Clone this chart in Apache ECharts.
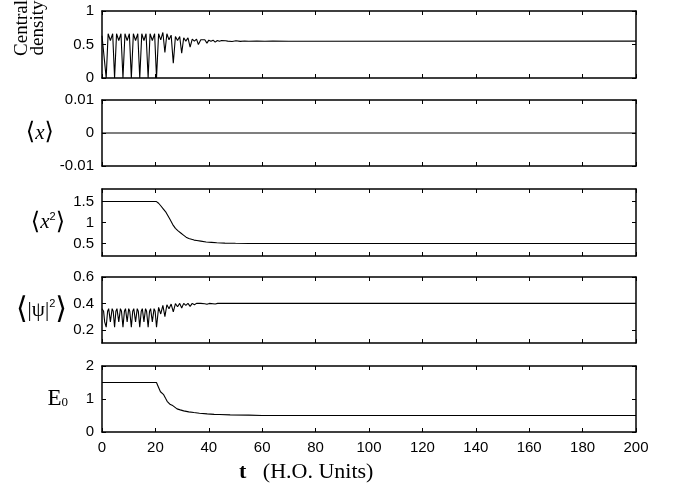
<!DOCTYPE html>
<html>
<head>
<meta charset="utf-8">
<script src="https://cdn.jsdelivr.net/npm/echarts@6/dist/echarts.min.js"></script>
<style>html,body{margin:0;padding:0;background:#fff}#c{width:677px;height:499px}</style>
</head>
<body>
<div id="c"></div>
<script>
// ---- tick labels ----
const xTicks = [0, 20, 40, 60, 80, 100, 120, 140, 160, 180, 200];
const densityTicks = [0, 0.5, 1];
const meanXTicks = [-0.01, 0, 0.01];
const x2Ticks = [0.5, 1, 1.5];
const psiTicks = [0.2, 0.4, 0.6];
const e0Ticks = [0, 1, 2];

// ---- series values [t, value] ----
const centralDensity = [
  [0,0.63],[1.57,0.0],[2.3,0.66],[3.14,0.56],[4.0,0.66],[4.71,0.0],[5.45,0.66],[6.28,0.56],[7.1,0.66],
  [7.85,0.0],[8.6,0.66],[9.42,0.56],[10.25,0.66],[10.99,0.0],[11.75,0.66],[12.57,0.56],[13.4,0.66],
  [14.14,0.0],[14.9,0.66],[15.71,0.56],[16.5,0.66],[17.28,0.0],[18.0,0.66],[18.85,0.56],[19.7,0.66],
  [20.42,0.0],[21.2,0.66],[22.0,0.57],[22.8,0.68],[23.56,0.38],[24.3,0.66],[25.1,0.57],[25.9,0.64],
  [26.7,0.22],[27.5,0.62],[28.3,0.56],[29.1,0.62],[29.85,0.37],[30.6,0.6],[31.4,0.55],[32.2,0.6],
  [33.0,0.46],[33.8,0.58],[34.6,0.55],[35.4,0.58],[36.1,0.5],[37.0,0.57],[37.7,0.55],[38.5,0.57],
  [39.3,0.52],[40.0,0.565],[40.8,0.55],[41.6,0.565],[42.4,0.535],[43.2,0.56],[44.0,0.55],[44.8,0.56],
  [45.5,0.54],[46.3,0.556],[47.1,0.55],[48.7,0.544],[50.2,0.555],[51.8,0.546],[53.4,0.553],[55,0.548],
  [58,0.552],[61,0.548],[64,0.551],[70,0.549],[200,0.55]
];
const meanX = [[0,0],[200,0]];
const meanX2 = [
  [0,1.5],[20.4,1.5],[21.2,1.46],[22.0,1.4],[23.0,1.32],[24.0,1.24],[24.5,1.2],[25.5,1.07],[26.5,0.95],
  [27.5,0.86],[28.5,0.8],[29.5,0.75],[30.5,0.7],[31.5,0.65],[32.5,0.62],[33.5,0.6],[34.5,0.58],
  [35.5,0.57],[37,0.555],[39,0.535],[41,0.525],[43,0.515],[46,0.508],[50,0.503],[55,0.5],[200,0.5]
];
const meanPsi2 = [
  [0,0.36],[0.6,0.34],[1.0,0.26],[1.57,0.22],[2.1,0.34],[2.5,0.36],[3.14,0.26],[3.8,0.36],[4.2,0.34],
  [4.71,0.22],[5.2,0.34],[5.6,0.36],[6.28,0.26],[6.9,0.36],[7.3,0.34],[7.85,0.22],[8.4,0.34],[8.8,0.36],
  [9.42,0.26],[10.0,0.36],[10.4,0.34],[10.99,0.22],[11.5,0.34],[11.9,0.36],[12.57,0.26],[13.2,0.36],
  [13.6,0.34],[14.14,0.22],[14.7,0.34],[15.1,0.36],[15.71,0.26],[16.3,0.36],[16.7,0.34],[17.28,0.22],
  [17.8,0.34],[18.2,0.36],[18.85,0.26],[19.5,0.36],[19.9,0.34],[20.42,0.22],[21.2,0.37],[22.0,0.32],
  [22.8,0.385],[23.56,0.3],[24.3,0.39],[25.1,0.36],[25.9,0.395],[26.7,0.335],[27.5,0.398],[28.3,0.375],
  [29.1,0.4],[29.85,0.365],[30.6,0.4],[31.4,0.385],[32.2,0.4],[33.0,0.378],[33.8,0.4],[34.6,0.39],
  [35.4,0.4],[36.1,0.388],[37.0,0.4],[38.5,0.397],[39.3,0.393],[40.2,0.4],[42.4,0.396],[43.3,0.4],
  [200,0.4]
];
const energy0 = [
  [0,1.5],[20.4,1.5],[21.2,1.35],[21.9,1.22],[22.5,1.2],[23.1,1.13],[23.8,1.02],[24.4,0.93],[25.0,0.88],
  [25.6,0.83],[26.5,0.8],[27.2,0.74],[28.1,0.7],[29.3,0.67],[30.6,0.64],[32.5,0.61],[34.4,0.59],
  [36.5,0.57],[39.4,0.55],[42,0.535],[44,0.53],[48,0.52],[55,0.51],[60,0.5],[200,0.5]
];

const SERIF = '"Liberation Serif","DejaVu Serif",serif';
const SANS = '"Liberation Sans",Arial,sans-serif';
const rich = {
  br: {fontSize: 24, fontFamily: '"DejaVu Sans",sans-serif', color: '#000'},
  bb: {fontSize: 30, fontFamily: '"DejaVu Sans",sans-serif', color: '#000'},
  i: {fontSize: 21, fontStyle: 'italic', fontFamily: SERIF, color: '#000'},
  n: {fontSize: 21, fontFamily: SERIF, color: '#000'},
  sup: {fontSize: 11, fontFamily: SANS, color: '#000', padding: [0, 0, 12, 0]},
  e: {fontSize: 23, fontFamily: SERIF, color: '#000'},
  sub: {fontSize: 13, fontFamily: SERIF, color: '#000', padding: [8, 0, 0, 0]}
};

const panels = [
  {data: centralDensity, min: 0, max: 1, ticks: densityTicks, top: 11, height: 67, name: '', gap: 0},
  {data: meanX, min: -0.01, max: 0.01, ticks: meanXTicks, top: 100, height: 66, name: '{br|⟨}{i|x}{br|⟩}', gap: 40},
  {data: meanX2, min: 0.2, max: 1.8, ticks: x2Ticks, top: 189, height: 67, name: '{br|⟨}{i|x}{sup|2}{br|⟩}', gap: 37},
  {data: meanPsi2, min: 0.1, max: 0.6, ticks: psiTicks, top: 277, height: 66, name: '{bb|⟨}{n||ψ|}{sup|2}{bb|⟩}', gap: 35},
  {data: energy0, min: 0, max: 2, ticks: e0Ticks, top: 366, height: 66, name: '{e|E}{sub|0}', gap: 34}
];

const lineAx = {show: true, onZero: false, lineStyle: {color: '#000', width: 1.5}};
const grids = [], xAxes = [], yAxes = [], series = [];
panels.forEach((p, i) => {
  grids.push({left: 102, right: 41, top: p.top, height: p.height, containLabel: false});
  const last = i === panels.length - 1;
  ['bottom', 'top'].forEach(pos => {
    xAxes.push({
      type: 'value', gridIndex: i, position: pos, min: 0, max: 200,
      axisLine: lineAx,
      axisTick: {show: true, inside: true, length: 4, customValues: xTicks, lineStyle: {color: '#000', width: 1}},
      axisLabel: {show: last && pos === 'bottom', customValues: xTicks, margin: 8, fontSize: 15, color: '#000', fontFamily: SANS},
      splitLine: {show: false}
    });
  });
  ['left', 'right'].forEach(pos => {
    const y = {
      type: 'value', gridIndex: i, position: pos, min: p.min, max: p.max,
      axisLine: lineAx,
      axisTick: {show: true, inside: true, length: 4, customValues: p.ticks, lineStyle: {color: '#000', width: 1}},
      axisLabel: {show: pos === 'left', customValues: p.ticks, margin: 8, fontSize: 15, color: '#000', fontFamily: SANS},
      splitLine: {show: false}
    };
    if (pos === 'left' && p.name) {
      y.name = p.name; y.nameLocation = 'middle'; y.nameRotate = 0; y.nameGap = p.gap;
      y.nameTextStyle = {rich: rich, align: 'right', verticalAlign: 'middle'};
    }
    yAxes.push(y);
  });
  series.push({
    type: 'line', xAxisIndex: 2 * i, yAxisIndex: 2 * i, data: p.data,
    showSymbol: false, symbol: 'none', lineStyle: {color: '#000', width: 1.1}, silent: true
  });
});

const chart = echarts.init(document.getElementById('c'), null, {renderer: 'canvas'});
chart.setOption({
  animation: false,
  backgroundColor: '#fff',
  grid: grids, xAxis: xAxes, yAxis: yAxes, series: series,
  graphic: [
    {type: 'text', x: 30, y: 28, rotation: Math.PI / 2,
     style: {text: 'Central\ndensity', font: '19px ' + SERIF, fill: '#000', align: 'center', verticalAlign: 'middle', lineHeight: 16}},
    {type: 'text', x: 239, y: 472,
     style: {text: '{b|t}{n|   (H.O. Units)}', verticalAlign: 'middle',
       rich: {b: {fontSize: 22, fontWeight: 'bold', fontFamily: SERIF, fill: '#000'},
              n: {fontSize: 22, fontFamily: SERIF, fill: '#000'}}}}
  ]
});
</script>
</body>
</html>
